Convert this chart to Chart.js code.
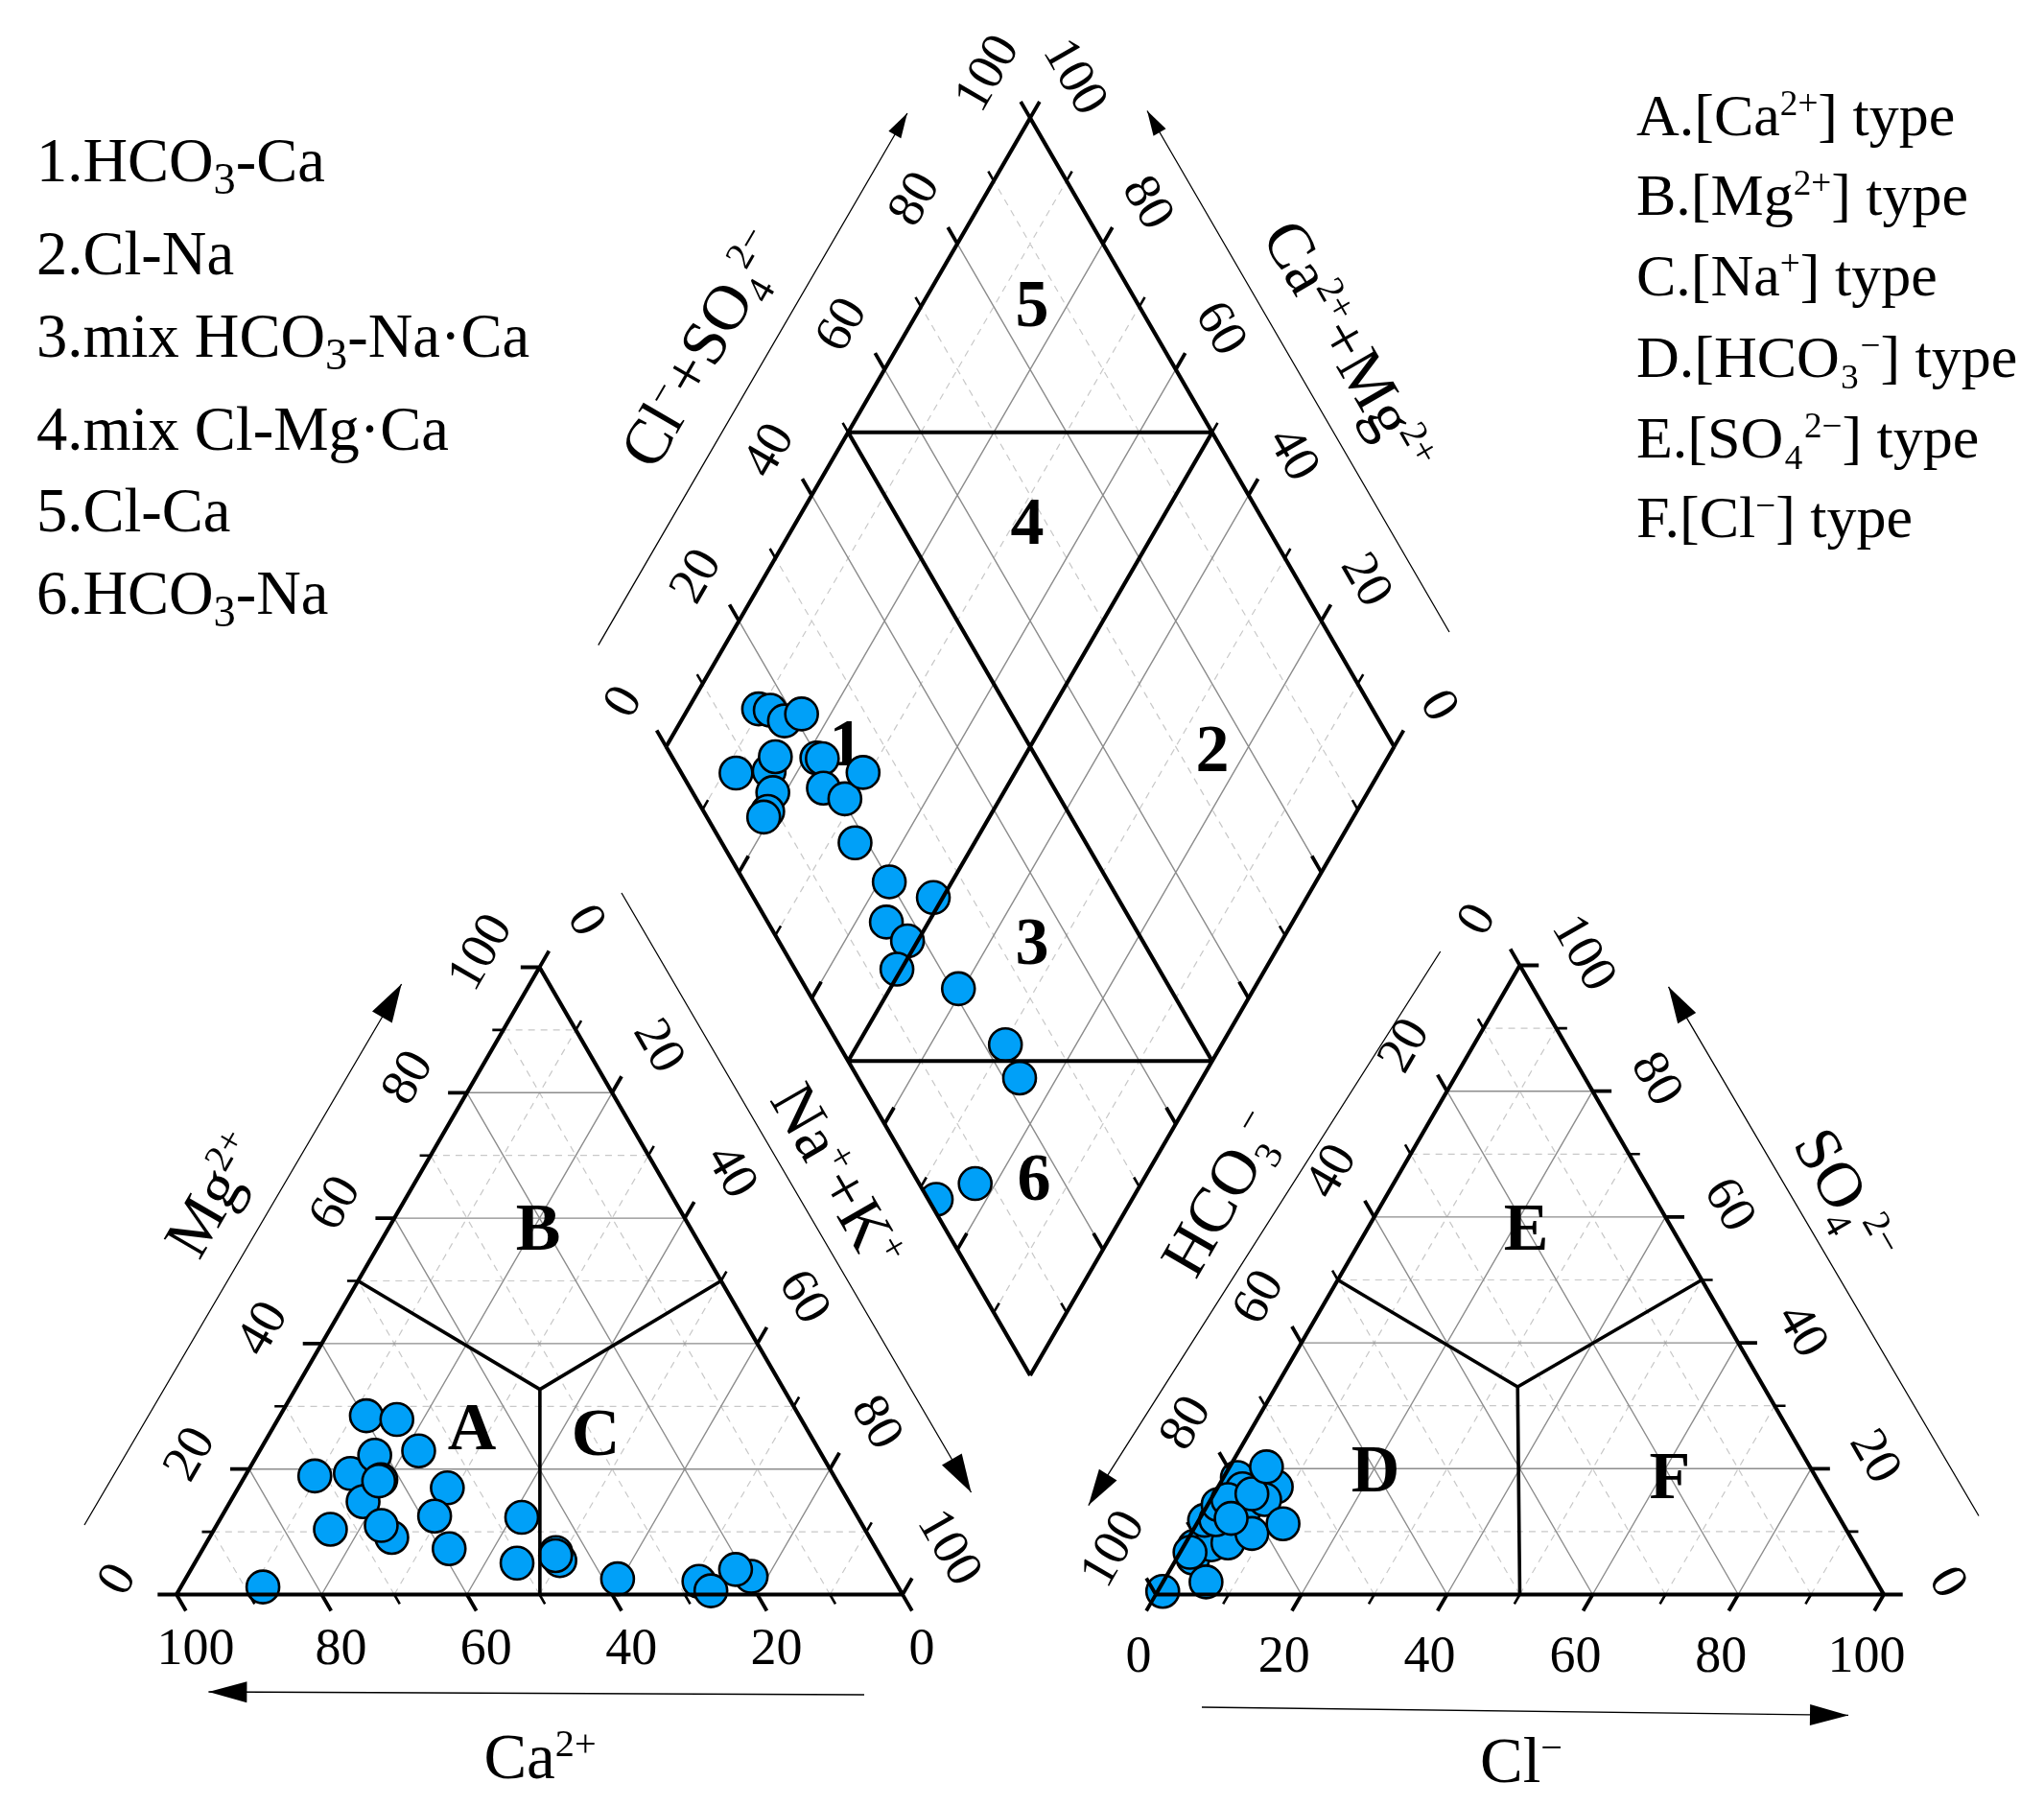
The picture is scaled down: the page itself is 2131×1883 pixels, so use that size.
<!DOCTYPE html>
<html>
<head>
<meta charset="utf-8">
<title>Piper diagram</title>
<style>
    html, body { margin: 0; padding: 0; background: #fff; }
    canvas { display: block; }
</style>
<script src="https://cdn.jsdelivr.net/npm/chart.js@4/dist/chart.umd.min.js"></script>
</head>
<body>
<canvas id="piperChart" width="2131" height="1883"></canvas>
<script>
// cation triangle, percent
const caValues = [87.5, 71.5, 73.6, 66.4, 66.9, 59.6, 55.7, 61.6, 62.7, 63.1, 65.8, 66.3, 55.2, 54.2, 58.2, 58.8, 46.3, 50.6, 44.5, 44.4, 44.7, 38, 27, 19.4, 21, 26.1];
const mgValues = [1.2, 18.9, 10.4, 19.3, 14.8, 28.5, 27.9, 22.2, 18.3, 18.1, 9.1, 11, 22.9, 17, 12.5, 7.3, 12.3, 5, 5.4, 6.7, 6.2, 2.5, 2.1, 2.9, 4, 0.6];

// anion triangle, percent
const clValues = [1.45, 2.2, 5.9, 0.7, 3.7, 5.8, 0.8, 2.3, 1.4, 1.9, 5.45, 8, 7.4, 3.5, 2.35, 5.2, 5.05, 8.35, 11.85, 4.3, 1.35];
const so4Values = [7.7, 5.8, 2, 0.5, 7.9, 8.2, 11.8, 11.9, 14.3, 18.6, 13.3, 17.1, 15.1, 16.8, 15.1, 16, 20.3, 9.7, 11.25, 12.1, 6.7];

// diamond, percent
const anionSum = [15.7, 17.2, 18.3, 21.2, 7.5, 12.2, 14.2, 11, 8.8, 7.8, 19.8, 20.5, 18.3, 20.4, 25, 18.3, 19.9, 24.7, 16.3, 17.7, 14, 20.9, 22.9, 22.2, 7.7, 1.1];
const cationSum = [90.3, 88.6, 85.8, 84, 88.3, 83.9, 84.2, 81.7, 80.9, 81, 78.4, 77.6, 75.1, 71.3, 70.9, 66.4, 58.6, 51.3, 55.8, 51.4, 50.6, 40.6, 29.7, 25.1, 22.8, 26.9];

// axis ticks
const tickLabels = [0, 20, 40, 60, 80, 100];
const solidLevels = [20, 40, 60, 80];
const dashedLevels = [10, 30, 50, 70, 90];

// text
const typeNotes = ['1.HCO~3~-Ca', '2.Cl-Na', '3.mix HCO~3~-Na·Ca', '4.mix Cl-Mg·Ca', '5.Cl-Ca', '6.HCO~3~-Na'];
const ionNotes = ['A.[Ca^2+^] type', 'B.[Mg^2+^] type', 'C.[Na^+^] type', 'D.[HCO₃^−^] type', 'E.[SO₄^2−^] type', 'F.[Cl^−^] type'];
const regionNames = ['A', 'B', 'C', 'D', 'E', 'F', '1', '2', '3', '4', '5', '6'];
const axisNames = ['Mg^2+^', 'Na^+^+K^+^', 'Ca^2+^', 'HCO~3~^−^', 'SO~4~^2−^', 'Cl^−^', 'Cl^−^+SO~4~^2−^', 'Ca^2+^+Mg^2+^'];

// layout, canvas pixels
const FONT = '"Liberation Serif", serif';
const leftTri = { x0: 184, y0: 1662.5, side: 757, height: 654 };
const rightTri = { x0: 1205, y0: 1662.5, side: 759, height: 656 };
const rhomb = { cx: 1074, y0: 1434, half: 379.5, height: 655.5 };
const LONG_TICK = 2.6;
const SHORT_TICK = 1.5;

const typeNoteY = [189, 286, 372, 469, 554, 640];
const ionNoteY = [141, 224, 308, 393, 477, 560];
const regionPos = [[492, 1487], [561, 1279], [621, 1493], [1434, 1531], [1591, 1279], [1741, 1538],
    [882, 774], [1264, 780], [1076, 981], [1071, 543], [1076, 316], [1078, 1227]];
const axisPos = [[222, 1245, -60], [874, 1226, 60], [563, 1831, 0], [1273, 1244, -60], [1925, 1246, 60], [1586, 1835, 0], [731, 363, -60], [1407, 361, 60]];
const arrows = [
    { from: [88, 1590], to: [418.6, 1026], len: 40, wid: 24 },
    { from: [648, 931], to: [1012.5, 1556], len: 40, wid: 24 },
    { from: [901, 1767], to: [217.4, 1764], len: 40, wid: 22 },
    { from: [1501.7, 992], to: [1134.8, 1569.6], len: 38, wid: 22 },
    { from: [2063, 1580.5], to: [1739.5, 1028.8], len: 38, wid: 22 },
    { from: [1253, 1780], to: [1927, 1788.4], len: 40, wid: 22 },
    { from: [623.8, 672.7], to: [945.9, 118], len: 26, wid: 15 },
    { from: [1511, 659], to: [1196, 115.5], len: 26, wid: 15 }
];

// barycentric position inside a triangle: u towards right corner, v towards apex
function triPoint(tri, u, v) {
    return { x: tri.x0 + (u + v / 2) / 100 * tri.side, y: tri.y0 - v / 100 * tri.height };
}

// diamond position from anion sum and cation sum
function rhombPoint(s, c) {
    return { x: rhomb.cx + (s - c) / 100 * rhomb.half, y: rhomb.y0 - (s + c) / 100 * rhomb.height };
}

// add a line piece, the null point breaks the path
function addSegment(list, a, b) {
    list.push(a, b, { x: null, y: null });
}

// lines of constant u, v and w, clipped to the triangle
function triGrid(tri, levels) {
    const out = [];
    levels.forEach(function(k) {
        addSegment(out, triPoint(tri, 0, k), triPoint(tri, 100 - k, k));
        addSegment(out, triPoint(tri, k, 0), triPoint(tri, k, 100 - k));
        addSegment(out, triPoint(tri, 100 - k, 0), triPoint(tri, 0, 100 - k));
    });
    return out;
}

function rhombGrid(levels) {
    const out = [];
    levels.forEach(function(k) {
        addSegment(out, rhombPoint(k, 0), rhombPoint(k, 100));
        addSegment(out, rhombPoint(0, k), rhombPoint(100, k));
    });
    return out;
}

// tick marks: cation triangle and anion triangle lean different ways
function cationTicks(levels, L) {
    const out = [];
    levels.forEach(function(k) {
        addSegment(out, triPoint(leftTri, 0, k), triPoint(leftTri, -L, k));
        addSegment(out, triPoint(leftTri, 100 - k, 0), triPoint(leftTri, 100 - k + L, -L));
        addSegment(out, triPoint(leftTri, k, 100 - k), triPoint(leftTri, k, 100 - k + L));
    });
    return out;
}

function anionTicks(levels, L) {
    const out = [];
    levels.forEach(function(k) {
        addSegment(out, triPoint(rightTri, 100 - k, k), triPoint(rightTri, 100 - k + L, k));
        addSegment(out, triPoint(rightTri, k, 0), triPoint(rightTri, k, -L));
        addSegment(out, triPoint(rightTri, 0, 100 - k), triPoint(rightTri, -L, 100 - k + L));
    });
    return out;
}

function rhombTicks(levels, L, outerOnly) {
    const out = [];
    levels.forEach(function(k) {
        addSegment(out, rhombPoint(k, 100), rhombPoint(k, 100 + L));
        addSegment(out, rhombPoint(100, k), rhombPoint(100 + L, k));
        if (!outerOnly) {
            addSegment(out, rhombPoint(k, 0), rhombPoint(k, L));
            addSegment(out, rhombPoint(0, k), rhombPoint(L, k));
        }
    });
    return out;
}

// outlines and the thick dividing lines
function frameLines() {
    const out = [];
    [leftTri, rightTri].forEach(function(tri) {
        addSegment(out, triPoint(tri, 0, 0), triPoint(tri, 100, 0));
        addSegment(out, triPoint(tri, 100, 0), triPoint(tri, 0, 100));
        addSegment(out, triPoint(tri, 0, 100), triPoint(tri, 0, 0));
    });
    const corners = [rhombPoint(0, 0), rhombPoint(100, 0), rhombPoint(100, 100), rhombPoint(0, 100)];
    corners.forEach(function(p, i) {
        addSegment(out, p, corners[(i + 1) % 4]);
    });
    // diamond field borders
    addSegment(out, rhombPoint(50, 100), rhombPoint(100, 50));
    addSegment(out, rhombPoint(50, 0), rhombPoint(0, 50));
    addSegment(out, rhombPoint(50, 0), rhombPoint(50, 100));
    addSegment(out, rhombPoint(0, 50), rhombPoint(100, 50));
    return out;
}

function fieldLines() {
    const out = [];
    const c1 = triPoint(leftTri, 33.7, 32.7);
    addSegment(out, triPoint(leftTri, 0, 50), c1);
    addSegment(out, triPoint(leftTri, 50, 50), c1);
    addSegment(out, triPoint(leftTri, 50, 0), c1);
    const c2 = triPoint(rightTri, 33.2, 33);
    addSegment(out, triPoint(rightTri, 0, 50), c2);
    addSegment(out, triPoint(rightTri, 50, 50), c2);
    addSegment(out, triPoint(rightTri, 50, 0), c2);
    return out;
}

function lineSet(label, data, color, width, order, dash) {
    return {
        label: label, data: data, showLine: true, spanGaps: false, pointRadius: 0,
        borderColor: color, borderWidth: width, borderDash: dash || [], order: order,
        borderCapStyle: 'butt', borderJoinStyle: 'miter'
    };
}

function pointSet(label, data) {
    return {
        label: label, data: data, showLine: false, order: 3,
        pointRadius: 17, pointBorderWidth: 2.6,
        pointBackgroundColor: '#00a0f8', pointBorderColor: '#000'
    };
}

// split "Ca^2+^" and "HCO~3~" into plain, sup and sub pieces
function richPieces(text) {
    return text.split(/(\^[^^]+\^|~[^~]+~)/).filter(Boolean).map(function(part) {
        if (part[0] === '^') return { text: part.slice(1, -1), kind: 'sup' };
        if (part[0] === '~') return { text: part.slice(1, -1), kind: 'sub' };
        return { text: part, kind: 'plain' };
    });
}

function drawRich(ctx, text, x, y, size, opts) {
    opts = opts || {};
    const subScale = opts.subScale || 0.6;
    const pieces = richPieces(text);
    const fontFor = function(kind) {
        const s = kind === 'sup' ? size * 0.6 : kind === 'sub' ? size * subScale : size;
        return (opts.bold ? 'bold ' : '') + s + 'px ' + FONT;
    };
    let total = 0;
    pieces.forEach(function(p) {
        ctx.font = fontFor(p.kind);
        p.width = ctx.measureText(p.text).width;
        total += p.width;
    });
    // all pieces share one baseline, "middle" only moves it down
    const baseY = opts.middle ? size * 0.34 : 0;
    ctx.save();
    ctx.translate(x, y);
    ctx.rotate((opts.rot || 0) * Math.PI / 180);
    ctx.fillStyle = '#000';
    ctx.textAlign = 'left';
    ctx.textBaseline = 'alphabetic';
    let cursor = opts.align === 'left' ? 0 : -total / 2;
    pieces.forEach(function(p) {
        ctx.font = fontFor(p.kind);
        const lift = p.kind === 'sup' ? -size * 0.34 : p.kind === 'sub' ? size * 0.2 : 0;
        ctx.fillText(p.text, cursor, baseY + lift);
        cursor += p.width;
    });
    ctx.restore();
}

// tick number beside one edge point
function tickText(ctx, pixel, label, dx, dy, rot) {
    const p = pixel(label.at);
    drawRich(ctx, String(label.text), p.x + dx, p.y + dy, 54, { rot: rot, middle: true });
}

const piperLabels = {
    id: 'piperLabels',
    beforeDatasetDraw: function(chart, args) {
        const ds = chart.data.datasets[args.index];
        if (ds.label !== 'diamond') return;
        const ctx = chart.ctx;
        const sx = chart.scales.x, sy = chart.scales.y;
        // field names sit under the points
        regionNames.forEach(function(name, i) {
            drawRich(ctx, name, sx.getPixelForValue(regionPos[i][0]), sy.getPixelForValue(regionPos[i][1]), 70, { bold: true, middle: true });
        });
        // points stay inside the diamond
        const corners = [rhombPoint(0, 0), rhombPoint(100, 0), rhombPoint(100, 100), rhombPoint(0, 100)];
        ctx.save();
        ctx.beginPath();
        corners.forEach(function(p, i) {
            const px = sx.getPixelForValue(p.x), py = sy.getPixelForValue(p.y);
            if (i === 0) ctx.moveTo(px, py); else ctx.lineTo(px, py);
        });
        ctx.closePath();
        ctx.clip();
    },
    afterDatasetDraw: function(chart, args) {
        if (chart.data.datasets[args.index].label === 'diamond') chart.ctx.restore();
    },
    afterDatasetsDraw: function(chart) {
        const ctx = chart.ctx;
        const sx = chart.scales.x, sy = chart.scales.y;
        const toPixel = function(p) {
            return { x: sx.getPixelForValue(p.x), y: sy.getPixelForValue(p.y) };
        };

        // arrow heads
        arrows.forEach(function(a) {
            const tip = toPixel({ x: a.to[0], y: a.to[1] });
            const tail = toPixel({ x: a.from[0], y: a.from[1] });
            const ang = Math.atan2(tip.y - tail.y, tip.x - tail.x);
            ctx.save();
            ctx.translate(tip.x, tip.y);
            ctx.rotate(ang);
            ctx.fillStyle = '#000';
            ctx.beginPath();
            ctx.moveTo(0, 0);
            ctx.lineTo(-a.len, -a.wid / 2);
            ctx.lineTo(-a.len, a.wid / 2);
            ctx.closePath();
            ctx.fill();
            ctx.restore();
        });

        // tick numbers
        tickLabels.forEach(function(k) {
            const put = function(at, dx, dy, rot) {
                tickText(ctx, toPixel, { at: at, text: k }, dx, dy, rot);
            };
            // cation triangle
            put(triPoint(leftTri, 100 - k, 0), 20, 54, 0);
            put(triPoint(leftTri, 0, k), -64, -17, -60);
            put(triPoint(leftTri, k, 100 - k), 51, -50, 60);
            // anion triangle
            put(triPoint(rightTri, k, 0), -18, 62, 0);
            put(triPoint(rightTri, 0, 100 - k), -47, -49, -60);
            put(triPoint(rightTri, 100 - k, k), 69, -14, 60);
            // diamond
            put(rhombPoint(k, 100), -47, -48, -60);
            put(rhombPoint(100, k), 49, -44, 60);
        });

        // axis names
        axisNames.forEach(function(name, i) {
            const p = toPixel({ x: axisPos[i][0], y: axisPos[i][1] });
            drawRich(ctx, name, p.x, p.y, 67, { rot: axisPos[i][2], middle: true });
        });

        // notes in the two top corners
        typeNotes.forEach(function(note, i) {
            const p = toPixel({ x: 38, y: typeNoteY[i] });
            drawRich(ctx, note, p.x, p.y, 64.5, { align: 'left', subScale: 0.72 });
        });
        ionNotes.forEach(function(note, i) {
            const p = toPixel({ x: 1706, y: ionNoteY[i] });
            drawRich(ctx, note, p.x, p.y, 62, { align: 'left' });
        });
    }
};

document.addEventListener('DOMContentLoaded', function() {
    const cationPoints = caValues.map(function(ca, i) {
        return triPoint(leftTri, 100 - ca - mgValues[i], mgValues[i]);
    });
    const anionPoints = clValues.map(function(cl, i) {
        return triPoint(rightTri, cl, so4Values[i]);
    });
    const diamondPoints = anionSum.map(function(s, i) {
        return rhombPoint(s, cationSum[i]);
    });

    const shafts = [];
    arrows.forEach(function(a) {
        addSegment(shafts, { x: a.from[0], y: a.from[1] }, { x: a.to[0], y: a.to[1] });
    });

    const solid = triGrid(leftTri, solidLevels).concat(triGrid(rightTri, solidLevels), rhombGrid(solidLevels));
    const dashed = triGrid(leftTri, dashedLevels).concat(triGrid(rightTri, dashedLevels), rhombGrid(dashedLevels));
    const longTicks = cationTicks(tickLabels, LONG_TICK).concat(anionTicks(tickLabels, LONG_TICK),
        rhombTicks(solidLevels, LONG_TICK), rhombTicks([0, 100], LONG_TICK, true));
    const shortTicks = cationTicks(dashedLevels, SHORT_TICK).concat(anionTicks(dashedLevels, SHORT_TICK),
        rhombTicks(dashedLevels, SHORT_TICK));

    const ctx = document.getElementById('piperChart').getContext('2d');
    new Chart(ctx, {
        type: 'scatter',
        data: {
            datasets: [
                lineSet('frame', frameLines(), '#000', 4.2, 1),
                lineSet('fields', fieldLines(), '#000', 3.6, 1),
                lineSet('long ticks', longTicks, '#000', 3.8, 1),
                lineSet('short ticks', shortTicks, '#000', 2.6, 1),
                lineSet('arrows', shafts, '#000', 1.3, 1),
                pointSet('cations', cationPoints),
                pointSet('anions', anionPoints),
                Object.assign(pointSet('diamond', diamondPoints), { order: 4 }),
                lineSet('grid', solid, '#8c8c8c', 1.4, 5),
                lineSet('grid minor', dashed, '#c8c8c8', 1.2, 6, [7, 6])
            ]
        },
        options: {
            responsive: false,
            devicePixelRatio: 1,
            animation: false,
            layout: { padding: 0, autoPadding: false },
            plugins: {
                legend: { display: false },
                tooltip: { enabled: false },
                title: { display: false }
            },
            scales: {
                x: { type: 'linear', display: false, min: 0, max: 2131 },
                y: { type: 'linear', display: false, min: 0, max: 1883, reverse: true }
            }
        },
        plugins: [piperLabels]
    });
});
</script>
</body>
</html>
